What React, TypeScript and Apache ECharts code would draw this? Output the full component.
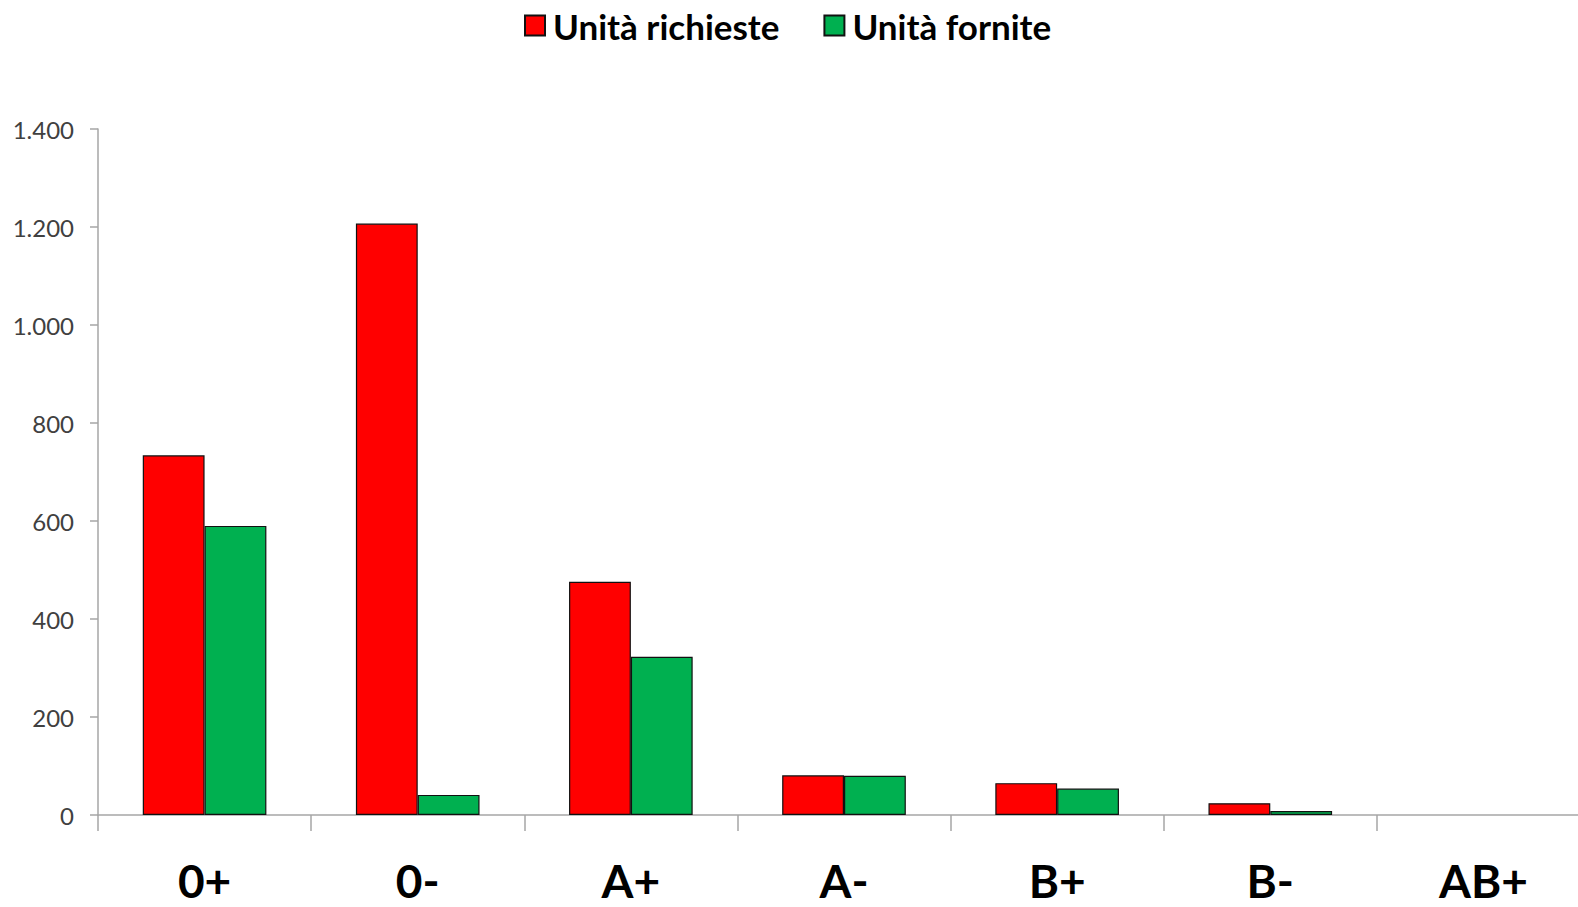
import React, { useEffect, useRef } from "react";
import * as echarts from "echarts";

const categories = ["0+", "0-", "A+", "A-", "B+", "B-", "AB+"];
const richieste = [734, 1207, 476, 81, 65, 24, 0];
const fornite = [590, 41, 323, 80, 54, 8, 0];
const seriesNames = ["Unità richieste", "Unità fornite"];

const fmt = (v: number) => String(v).replace(/\B(?=(\d{3})+(?!\d))/g, ".");
const toData = (arr: number[]) =>
  arr.map((v) => (v === 0 ? { value: v, itemStyle: { borderWidth: 0 } } : v));

export default function App() {
  const ref = useRef<HTMLDivElement>(null);
  useEffect(() => {
    const chart = echarts.init(ref.current!, null, { renderer: "svg" });
    chart.setOption({
      animation: false,
      backgroundColor: "#ffffff",
      legend: {
        top: 3,
        left: 519,
        icon: "rect",
        itemWidth: 20,
        itemHeight: 20,
        itemGap: 44,
        textStyle: {
          fontFamily: "Lato",
          fontWeight: "bold",
          fontSize: 35,
          color: "#000",
          padding: [0, 0, 0, 3],
        },
        data: seriesNames,
      },
      grid: { left: 98, top: 129, height: 686, width: 1492, containLabel: false },
      xAxis: {
        type: "category",
        data: categories,
        axisLine: { lineStyle: { color: "#a6a6a6", width: 1.5 } },
        axisTick: { show: true, interval: 0, length: 16, lineStyle: { color: "#a6a6a6", width: 1.5 } },
        axisLabel: {
          fontFamily: "Lato",
          fontWeight: "bold",
          fontSize: 46,
          color: "#000",
          margin: 42,
        },
      },
      yAxis: {
        type: "value",
        min: 0,
        max: 1400,
        interval: 200,
        splitLine: { show: false },
        axisLine: { show: true, lineStyle: { color: "#a6a6a6", width: 1.5 } },
        axisTick: { show: true, length: 8, lineStyle: { color: "#a6a6a6", width: 1.5 } },
        axisLabel: {
          fontFamily: "Lato",
          fontSize: 24,
          color: "#404040",
          margin: 24,
          formatter: (v: number) => fmt(v),
        },
      },
      series: [
        {
          name: seriesNames[0],
          type: "bar",
          data: toData(richieste),
          barGap: "0%",
          barCategoryGap: "42%",
          itemStyle: { color: "#ff0000", borderColor: "#111", borderWidth: 1.2 },
        },
        {
          name: seriesNames[1],
          type: "bar",
          data: toData(fornite),
          barGap: "0%",
          barCategoryGap: "42%",
          itemStyle: { color: "#00b050", borderColor: "#111", borderWidth: 1.2 },
        },
      ],
    });
    return () => chart.dispose();
  }, []);
  return (
    <div
      style={{ position: "absolute", left: 0, top: 0, width: 1578, height: 907, overflow: "hidden" }}
    >
      <div ref={ref} style={{ width: 1592, height: 907 }} />
    </div>
  );
}
